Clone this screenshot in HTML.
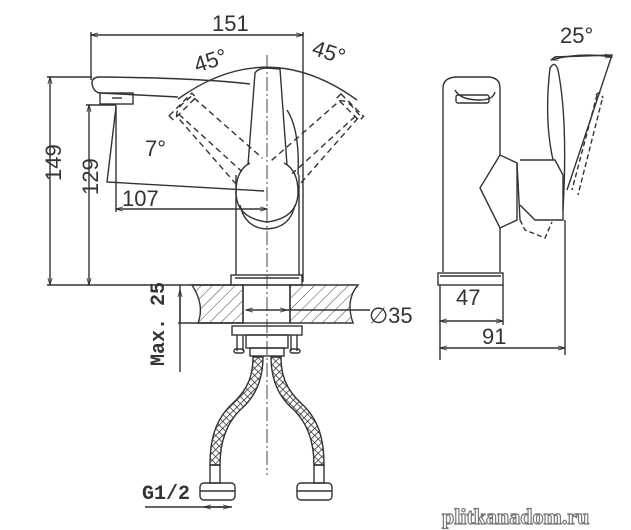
<!DOCTYPE html>
<html><head><meta charset="utf-8"><style>
html,body{margin:0;padding:0;background:#fff}
svg{display:block}
text{font-family:"Liberation Sans",sans-serif;fill:#333}
</style></head><body>
<svg width="631" height="530" viewBox="0 0 631 530" xmlns="http://www.w3.org/2000/svg">
<defs>
<marker id="a" viewBox="0 0 10 10" refX="10" refY="5" markerWidth="7" markerHeight="5" orient="auto-start-reverse"><path d="M0,2 L10,5 L0,8" fill="none" stroke="#333" stroke-width="1.2"/></marker>
<pattern id="h" width="8" height="8" patternUnits="userSpaceOnUse" patternTransform="rotate(45)"><line x1="0" y1="0" x2="0" y2="8" stroke="#444" stroke-width="1"/></pattern>
<pattern id="braid" width="5" height="5" patternUnits="userSpaceOnUse" patternTransform="rotate(45)"><rect width="5" height="5" fill="#fff"/><path d="M0,0H5M0,0V5" stroke="#333" stroke-width="1.6"/></pattern>
</defs>
<g fill="none" stroke="#333" stroke-width="1.4">
<line x1="91" y1="35" x2="303" y2="35" marker-start="url(#a)" marker-end="url(#a)"/>
<line x1="91" y1="32" x2="91" y2="80"/>
<line x1="303" y1="32" x2="303" y2="282"/>
<line x1="267" y1="55" x2="267" y2="475" stroke-dasharray="14,3,2,3" stroke-width="0.9"/>
<path d="M178,99 Q267,35 357,100" />
<path d="M250,84 Q200,78 100,77 Q92,77 92,83 Q93,92 100,93 L178,97"/>
<rect x="100" y="93" width="33" height="11"/>
<line x1="112" y1="98" x2="122" y2="98"/>
<line x1="236" y1="175" x2="236" y2="275"/>
<line x1="299" y1="175" x2="299" y2="275"/>
<rect x="231" y="275" width="71" height="10"/>
<line x1="235" y1="278" x2="299" y2="278"/>
<path d="M250,163 Q236,170 236,192 Q236,218 267,222 Q298,218 298,192 Q298,170 284,163"/>
<path d="M240,205 Q245,228 267,229 Q290,228 295,205"/>
<path d="M287,110 Q300,130 298,175"/>
<path d="M248,165 L255,73 Q258,68 268,68 L280,69 L287,165"/>
<g stroke-dasharray="6,4">
<g transform="rotate(-45 266 190)"><path d="M249,165 L255,75 Q258,70 268,70 L280,71 L286,165 M258,75 L262,160"/><rect x="250" y="69" width="32" height="6"/></g>
<g transform="rotate(45 266 190)"><path d="M249,165 L255,75 Q258,70 268,70 L280,71 L286,165 M277,75 L273,160"/><rect x="251" y="69" width="32" height="6"/></g>
</g>
<line x1="50" y1="77" x2="50" y2="285" marker-start="url(#a)" marker-end="url(#a)"/>
<line x1="47" y1="77" x2="92" y2="77"/>
<line x1="89" y1="105" x2="89" y2="285" marker-start="url(#a)" marker-end="url(#a)"/>
<line x1="86" y1="105" x2="116" y2="105"/>
<line x1="47" y1="285" x2="231" y2="285"/>
<path d="M116,107 L107,182 L264,191" />
<line x1="116" y1="105" x2="116" y2="212"/>
<line x1="116" y1="209" x2="267" y2="209" marker-start="url(#a)" marker-end="url(#a)"/>
<path d="M192,285 H243 V323 H198 Q205,305 192,285 Z" fill="url(#h)"/>
<path d="M290,285 H358 Q345,300 353,323 H290 Z" fill="url(#h)"/>
<rect x="243" y="285" width="47" height="38"/>
<line x1="180" y1="285" x2="180" y2="323"/>
<line x1="178" y1="323" x2="243" y2="323"/>
<line x1="180" y1="290" x2="180" y2="372" marker-start="url(#a)"/>
<line x1="246" y1="310" x2="287" y2="310" marker-start="url(#a)" marker-end="url(#a)"/>
<line x1="287" y1="310" x2="370" y2="310"/>
<rect x="232" y="326" width="70" height="9"/>
<rect x="246" y="335" width="42" height="13"/>
<path d="M237,335 V351 M243,335 V351 M291,335 V351 M297,335 V351"/>
<rect x="234" y="349" width="10" height="4" rx="2"/><rect x="290" y="349" width="10" height="4" rx="2"/>
<rect x="250" y="348" width="34" height="8"/>
<path d="M263,357 C263,375 258,395 240,410 C225,425 220,445 220,465 L210,465 C210,440 215,420 232,404 C250,388 253,372 253,357 Z" fill="url(#braid)"/>
<path d="M271,357 C271,375 276,395 294,410 C309,425 314,445 314,465 L324,465 C324,440 319,420 302,404 C284,388 281,372 281,357 Z" fill="url(#braid)"/>
<rect x="210" y="465" width="10" height="18"/><rect x="314" y="465" width="10" height="18"/>
<rect x="200" y="483" width="35" height="17" rx="4"/><rect x="297" y="483" width="35" height="17" rx="4"/>
<line x1="200" y1="491" x2="235" y2="491"/><line x1="297" y1="491" x2="332" y2="491"/>
<line x1="145" y1="507" x2="232" y2="507"/>
<line x1="204" y1="507" x2="230" y2="507" marker-start="url(#a)" marker-end="url(#a)"/>
<path d="M443,272 V88 Q443,77 458,77 H487 Q500,77 500,88 V155"/>
<path d="M500,228 V272"/>
<path d="M455,90 Q460,100 480,100 Q493,100 495,92"/>
<rect x="456" y="95" width="33" height="8" rx="2"/>
<rect x="438" y="273" width="65" height="12"/>
<line x1="440" y1="276" x2="501" y2="276"/>
<path d="M500,155 L480,188 L500,228 L517,220 L517,163 Z"/>
<path d="M517,163 L520,220 M520,160 H555 L563,175 V220 H535 L520,205"/>
<path d="M553,160 Q544,120 550,68 Q555,60 558,70 Q568,120 563,210"/>
<path d="M551,60 L555,57 L612,55 L567,190" />
<path d="M551,60 Q580,52 612,57" marker-start="url(#a)" marker-end="url(#a)"/>
<g stroke-dasharray="5,3"><path d="M597,95 L572,190 M602,100 L578,195 M596,95 Q600,90 603,98"/><path d="M520,220 L525,230 L545,238 L552,222"/></g>
<line x1="440" y1="285" x2="440" y2="360"/>
<line x1="503" y1="285" x2="503" y2="325"/>
<line x1="565" y1="220" x2="565" y2="355"/>
<line x1="440" y1="321" x2="503" y2="321" marker-start="url(#a)" marker-end="url(#a)"/>
<line x1="440" y1="348" x2="565" y2="348" marker-start="url(#a)" marker-end="url(#a)"/>
</g>
<g font-size="22">
<text x="212" y="31">151</text>
<text x="193" y="68" transform="rotate(-18 210 58)">45°</text>
<text x="313" y="60" transform="rotate(18 330 50)">45°</text>
<text x="145" y="156">7°</text>
<text x="122" y="206">107</text>
<text x="40" y="202" transform="rotate(-90 40 181)">149</text>
<text x="78" y="215" transform="rotate(-90 78 195)">129</text>
<text x="124" y="338" font-size="20" font-weight="bold" transform="rotate(-90 158 332)" style="font-family:'Liberation Mono',monospace">Max. 25</text>
<text x="369" y="323">∅35</text>
<text x="142" y="499" font-size="20" font-weight="bold" style="font-family:'Liberation Mono',monospace">G1/2</text>
<text x="560" y="43">25°</text>
<text x="456" y="305">47</text>
<text x="482" y="344">91</text>
</g>
<text x="442" y="524" font-size="22" font-weight="bold" style="font-family:'Liberation Serif',serif;fill:#fff;stroke:#777;stroke-width:1.2">plitkanadom.ru</text>
</svg>
</body></html>
